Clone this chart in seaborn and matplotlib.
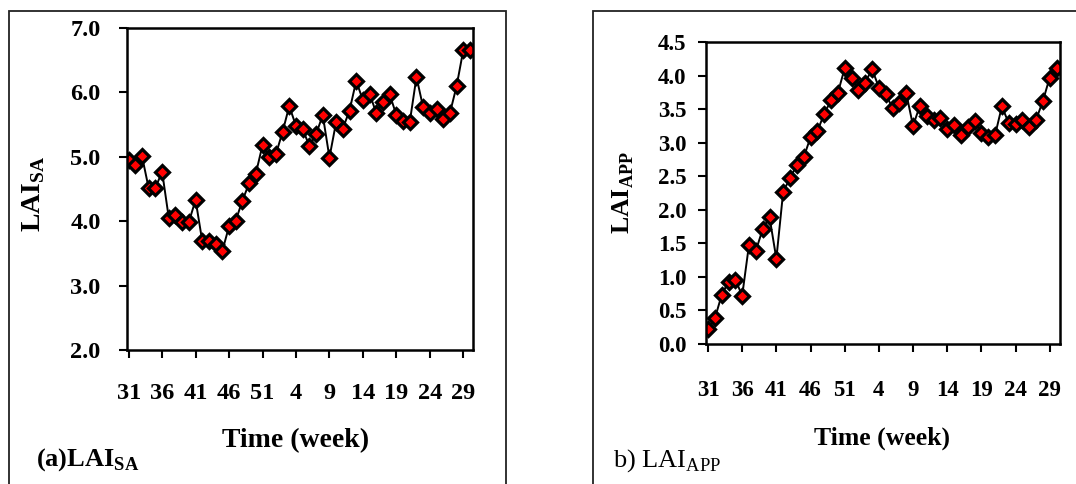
import matplotlib
matplotlib.use("Agg")
import matplotlib.pyplot as plt
from matplotlib.patches import Rectangle
from matplotlib.ticker import FormatStrFormatter
import seaborn as sns

# week numbers: 31..52 then 1..30
weeks = list(range(31, 53)) + list(range(1, 31))

lai_sa = [4.95, 4.87, 5.01, 4.51, 4.52, 4.77, 4.05, 4.09, 3.99, 3.99,
          4.33, 3.69, 3.70, 3.65, 3.54, 3.92, 4.01, 4.32, 4.59, 4.74,
          5.18, 5.00, 5.04, 5.39, 5.79, 5.48, 5.43, 5.17, 5.35, 5.65,
          4.99, 5.54, 5.44, 5.72, 6.18, 5.88, 5.98, 5.68, 5.86, 5.97,
          5.65, 5.55, 5.54, 6.24, 5.77, 5.68, 5.75, 5.59, 5.68, 6.10,
          6.66, 6.66]

lai_app = [0.22, 0.38, 0.73, 0.93, 0.96, 0.72, 1.48, 1.39, 1.71, 1.89,
           1.27, 2.27, 2.47, 2.67, 2.78, 3.08, 3.17, 3.43, 3.63, 3.74,
           4.11, 3.97, 3.79, 3.89, 4.10, 3.82, 3.73, 3.51, 3.59, 3.74,
           3.25, 3.55, 3.40, 3.33, 3.36, 3.20, 3.27, 3.11, 3.23, 3.32,
           3.15, 3.09, 3.11, 3.54, 3.29, 3.28, 3.34, 3.24, 3.34, 3.62,
           3.97, 4.11]

tick_pos = list(range(0, 51, 5))
tick_labels = [str(weeks[i]) for i in tick_pos]

sns.set_theme(style="ticks")
plt.rcParams["font.family"] = ["Liberation Serif", "DejaVu Serif"]
plt.rcParams["font.weight"] = "bold"
plt.rcParams["text.color"] = "black"
plt.rcParams["axes.labelcolor"] = "black"
plt.rcParams["mathtext.fontset"] = "custom"
plt.rcParams["mathtext.rm"] = "Liberation Serif:normal"
plt.rcParams["mathtext.bf"] = "Liberation Serif:bold"

fig = plt.figure(figsize=(10.76, 4.84), dpi=100)

# panel frames
fig.patches.append(Rectangle((0.008, -0.05), 0.462, 1.028, transform=fig.transFigure,
                             fill=False, edgecolor="#222222", lw=1.3))
fig.patches.append(Rectangle((0.551, -0.05), 0.5, 1.028, transform=fig.transFigure,
                             fill=False, edgecolor="#222222", lw=1.3))

ax1 = fig.add_axes([0.118, 0.2769, 0.3216, 0.665])
ax2 = fig.add_axes([0.6561, 0.2893, 0.329, 0.624])


def draw(ax, vals, ylim, ystep, xlim, tsize, xpad, ypad):
    idx = list(range(len(vals)))
    sns.lineplot(x=idx, y=vals, ax=ax, color="black", lw=1.4, marker="D",
                 markersize=7.5, markerfacecolor="red", markeredgecolor="black",
                 markeredgewidth=2.3)
    ax.set_xlim(*xlim)
    ax.set_ylim(*ylim)
    n = int(round((ylim[1] - ylim[0]) / ystep))
    ax.set_yticks([ylim[0] + k * ystep for k in range(n + 1)])
    ax.yaxis.set_major_formatter(FormatStrFormatter("%.1f"))
    ax.set_xticks(tick_pos)
    ax.set_xticklabels(tick_labels)
    ax.tick_params(axis="x", direction="out", length=6, width=1.5, pad=xpad,
                   labelsize=tsize, colors="black")
    ax.tick_params(axis="y", direction="out", length=6, width=1.5, pad=ypad,
                   labelsize=tsize, colors="black")
    for lab in ax.get_xticklabels() + ax.get_yticklabels():
        lab.set_fontweight("bold")
    for sp in ax.spines.values():
        sp.set_visible(True)
        sp.set_linewidth(1.8)
        sp.set_color("black")
    ax.grid(False)


draw(ax1, lai_sa, (2.0, 7.0), 1.0, (-0.25, 51.45), 17.5, 18, 13)
draw(ax2, lai_app, (0.0, 4.5), 0.5, (-0.3, 51.5), 16.5, 20, 8)

ax1.set_xlabel("Time (week)", fontsize=20, fontweight="bold", va="center")
ax1.xaxis.set_label_coords(0.488, -0.283)
ax1.set_ylabel(r"LAI$_\mathbf{SA}$", fontsize=20, fontweight="bold", va="center")
ax1.yaxis.set_label_coords(-0.269, 0.484)
ax1.text(-0.263, -0.342, r"(a)LAI$_\mathbf{SA}$", transform=ax1.transAxes,
         ha="left", va="center", fontsize=19, fontweight="bold")

ax2.set_xlabel("Time (week)", fontsize=18.5, fontweight="bold", va="center")
ax2.xaxis.set_label_coords(0.497, -0.312)
ax2.set_ylabel(r"LAI$_\mathbf{APP}$", fontsize=18.5, fontweight="bold", va="center")
ax2.yaxis.set_label_coords(-0.234, 0.5)
ax2.text(-0.263, -0.387, r"b) LAI$_\mathrm{APP}$", transform=ax2.transAxes,
         ha="left", va="center", fontsize=19, fontweight="normal")

fig.savefig("out.png", dpi=100, facecolor="white")
